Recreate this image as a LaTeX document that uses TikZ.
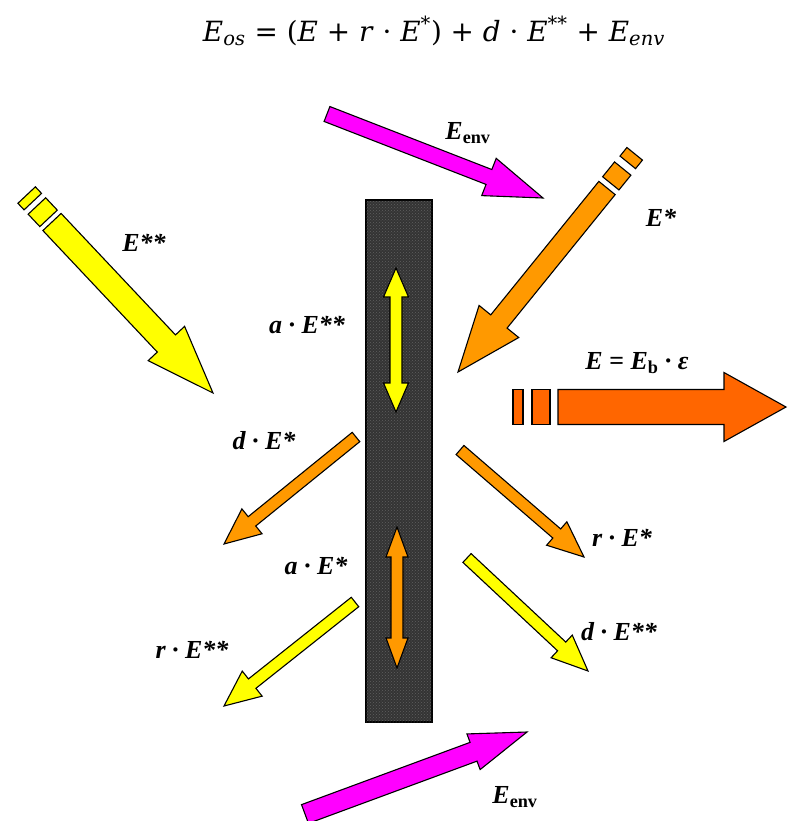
\documentclass[tikz,border=0pt]{standalone}
\usepackage{graphicx}
\usepackage{fontspec}
\setmainfont{Liberation Serif}
\newfontfamily\eqfont{DejaVu Serif}
\usetikzlibrary{calc,patterns}
\definecolor{yel}{RGB}{255,255,0}
\definecolor{org}{RGB}{255,153,0}
\definecolor{deep}{RGB}{255,102,0}
\definecolor{mag}{RGB}{255,0,255}
\definecolor{platec}{RGB}{52,52,52}
\definecolor{dotc}{RGB}{95,95,95}
% block arrow: #1 start, #2 tip, #3 half shaft, #4 half head, #5 head length, #6 style
\newcommand\blockarr[6]{%
  \coordinate (hb) at ($(#2)!#5!(#1)$);
  \draw[#6] ($(#1)!#3!90:(#2)$) -- ($(hb)!#3!90:(#2)$) -- ($(hb)!#4!90:(#2)$) -- (#2)
    -- ($(hb)!#4!-90:(#2)$) -- ($(hb)!#3!-90:(#2)$) -- ($(#1)!#3!-90:(#2)$) -- cycle;}
% double arrow: #1 end A, #2 end B, #3 half shaft, #4 half head, #5 head length, #6 style
\newcommand\dblarr[6]{%
  \coordinate (ha) at ($(#1)!#5!(#2)$);
  \coordinate (hbb) at ($(#2)!#5!(#1)$);
  \draw[#6] (#1) -- ($(ha)!#4!90:(#2)$) -- ($(ha)!#3!90:(#2)$) -- ($(hbb)!#3!90:(#2)$)
    -- ($(hbb)!#4!90:(#2)$) -- (#2) -- ($(hbb)!#4!-90:(#2)$) -- ($(hbb)!#3!-90:(#2)$)
    -- ($(ha)!#3!-90:(#2)$) -- ($(ha)!#4!-90:(#2)$) -- cycle;}
% tail piece: #1 start, #2 tip, #3 d1, #4 d2 (behind start), #5 half width, #6 style
\newcommand\tailpiece[6]{%
  \coordinate (pa) at ($(#1)!-#3!(#2)$);
  \coordinate (pb) at ($(#1)!-#4!(#2)$);
  \draw[#6] ($(pa)!#5!90:(#2)$) -- ($(pb)!#5!90:(#2)$) -- ($(pb)!#5!-90:(#2)$) -- ($(pa)!#5!-90:(#2)$) -- cycle;}
\newcommand\sbs[1]{\textsubscript{\upshape #1}}
\tikzset{
  outl/.style={draw=black, line width=1.1pt, line join=miter},
  yelarr/.style={outl, fill=yel},
  orgarr/.style={outl, fill=org},
  deeparr/.style={outl, fill=deep},
  magarr/.style={outl, fill=mag},
  lab/.style={font=\fontsize{26}{28}\selectfont\bfseries\itshape, inner sep=0pt},
}
\begin{document}
\begin{tikzpicture}[x=1pt,y=-1pt]
\useasboundingbox (0,0) rectangle (787,821);
% plate
\node[draw=black, line width=1.2pt, fill=platec, minimum width=66pt, minimum height=522pt, inner sep=0pt,
      postaction={pattern=crosshatch dots, pattern color=dotc}] (plate) at (399,461) {};
% coordinates
\coordinate (s1) at (52,222);   \coordinate (t1) at (213,393);
\coordinate (s2) at (607,188);  \coordinate (t2) at (458,372);
\coordinate (s3) at (327,114);  \coordinate (t3) at (543,198);
\coordinate (s4) at (558,407);  \coordinate (t4) at (786,407);
\coordinate (s5) at (356,437);  \coordinate (t5) at (224,544);
\coordinate (s6) at (460,450);  \coordinate (t6) at (584,557);
\coordinate (s7) at (355,602);  \coordinate (t7) at (224,706);
\coordinate (s8) at (467,558);  \coordinate (t8) at (588,671);
\coordinate (s9) at (305,814);  \coordinate (t9) at (527,732);
\coordinate (ya) at (396,268);  \coordinate (yb) at (396,412);
\coordinate (oa) at (397,527);  \coordinate (ob) at (397,668);
% E** incoming
\tailpiece{s1}{t1}{5pt}{22pt}{12pt}{yelarr}
\tailpiece{s1}{t1}{28pt}{37pt}{12pt}{yelarr}
\blockarr{s1}{t1}{12.5pt}{25pt}{68pt}{yelarr}
% E* incoming
\tailpiece{s2}{t2}{6pt}{25pt}{10.5pt}{orgarr}
\tailpiece{s2}{t2}{33pt}{44pt}{10pt}{orgarr}
\blockarr{s2}{t2}{10.5pt}{25.5pt}{65pt}{orgarr}
% E_env top
\blockarr{s3}{t3}{8pt}{20pt}{58pt}{magarr}
% E outgoing
\tailpiece{s4}{t4}{8pt}{26pt}{17.5pt}{deeparr}
\tailpiece{s4}{t4}{35pt}{45pt}{17.5pt}{deeparr}
\blockarr{s4}{t4}{17.5pt}{34.5pt}{62pt}{deeparr}
% small arrows
\blockarr{s5}{t5}{6pt}{16pt}{36pt}{orgarr}
\blockarr{s6}{t6}{6pt}{15.5pt}{36pt}{orgarr}
\blockarr{s7}{t7}{6pt}{16pt}{36pt}{yelarr}
\blockarr{s8}{t8}{6pt}{15.5pt}{36pt}{yelarr}
% E_env bottom
\blockarr{s9}{t9}{10pt}{19pt}{57pt}{magarr}
% double arrows in plate
\dblarr{ya}{yb}{6pt}{12.5pt}{29pt}{yelarr}
\dblarr{oa}{ob}{6pt}{11pt}{30pt}{orgarr}
% equation
\node[inner sep=0pt] (eq) at (434,31) {\resizebox{462pt}{!}{\eqfont\fontsize{20}{24}\selectfont
  \textit{E}\textsubscript{\textit{os}} = (\textit{E} + \textit{r} · \textit{E}\textsuperscript{*}) + \textit{d} · \textit{E}\textsuperscript{**} + \textit{E}\textsubscript{\textit{env}}}};
% labels
\node[lab] (lenvt) at (468,133) {E\sbs{env}};
\node[lab] (lestar) at (661,218) {E*};
\node[lab] (less) at (144,243) {E**};
\node[lab] (laess) at (307,325) {a · E**};
\node[lab] (leb) at (637,363) {E = E\sbs{b} · ε};
\node[lab] (ldes) at (264,441) {d · E*};
\node[lab] (lres) at (622,538) {r · E*};
\node[lab] (laes) at (316,566) {a · E*};
\node[lab] (lress) at (192,650) {r · E**};
\node[lab] (ldess) at (619,632) {d · E**};
\node[lab] (lenvb) at (515,797) {E\sbs{env}};
\end{tikzpicture}
\end{document}
